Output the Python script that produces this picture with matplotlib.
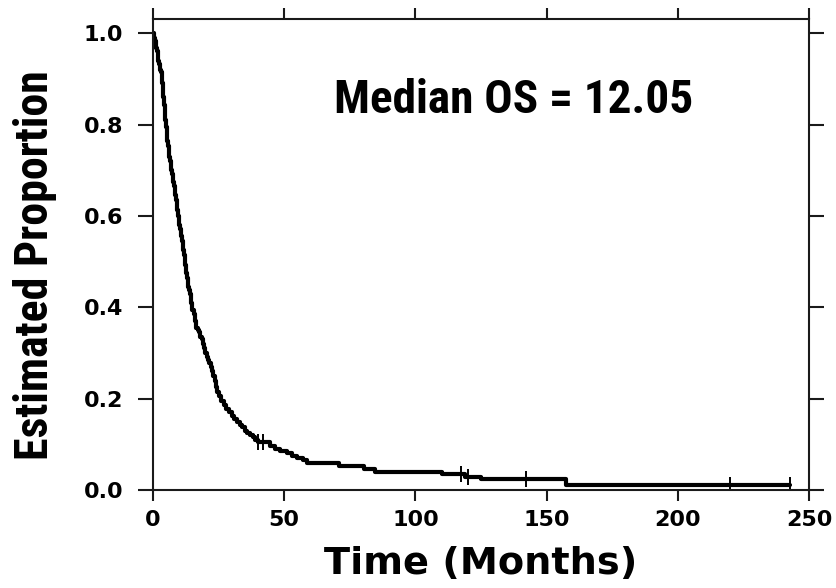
import numpy as np
import matplotlib
matplotlib.use("Agg")
import matplotlib.pyplot as plt
from matplotlib import font_manager

# Kaplan-Meier estimate: event times (months) and survival after each step
times = [0, 0.25, 0.5, 0.75, 1.0, 1.25, 1.5, 1.75, 2.0, 2.25, 2.5, 2.75,
         3.0, 3.25, 3.5, 3.75, 4.0, 4.25, 4.5, 4.75, 5.0, 5.25, 5.5, 5.75,
         6.0, 6.25, 6.5, 6.75, 7.0, 7.25, 7.5, 7.75, 8.0, 8.25, 8.5, 8.75,
         9.0, 9.25, 9.5, 9.75, 10.0, 10.25, 10.5, 10.75, 11.0, 11.25, 11.5,
         11.75, 12.05, 12.25, 12.5, 12.75, 13.0, 13.25, 13.5, 13.75, 14.0,
         14.5, 15.0, 15.5, 16.0, 16.5, 17.0, 17.5, 18.0, 18.5, 19.0, 19.5,
         20.0, 20.5, 21.0, 21.5, 22.0, 22.5, 23.0, 23.5, 24.0, 24.5, 25.0,
         26.0, 27.0, 28.0, 29.0, 30.0, 31.0, 32.0, 33.0, 34.0, 35.0, 36.0,
         37.0, 38.0, 39.0, 40.0, 44.5, 46.5, 48.5, 51.0, 53.0, 55.0, 57.0,
         58.5, 71.0, 80.5, 84.5, 110.0, 119.0, 125.0, 157.5, 242.7]
survival = [1.0, 0.995, 0.99, 0.982, 0.975, 0.968, 0.96, 0.95, 0.94, 0.932,
            0.925, 0.92, 0.915, 0.903, 0.89, 0.875, 0.86, 0.843, 0.825,
            0.81, 0.795, 0.78, 0.765, 0.752, 0.74, 0.73, 0.72, 0.71, 0.70,
            0.692, 0.685, 0.675, 0.665, 0.655, 0.645, 0.635, 0.625, 0.612,
            0.60, 0.59, 0.58, 0.572, 0.565, 0.555, 0.545, 0.535, 0.525,
            0.515, 0.50, 0.492, 0.485, 0.475, 0.465, 0.455, 0.445, 0.437,
            0.43, 0.41, 0.395, 0.385, 0.37, 0.355, 0.35, 0.345, 0.335, 0.33,
            0.32, 0.31, 0.30, 0.292, 0.285, 0.278, 0.27, 0.26, 0.25, 0.238,
            0.225, 0.215, 0.205, 0.195, 0.185, 0.178, 0.17, 0.162, 0.155,
            0.148, 0.143, 0.137, 0.13, 0.125, 0.12, 0.115, 0.11, 0.104,
            0.096, 0.09, 0.085, 0.08, 0.075, 0.07, 0.065, 0.059, 0.053,
            0.046, 0.040, 0.035, 0.029, 0.024, 0.012, 0.012]
# Censored observations (months)
censored = [40.2, 41.8, 117.2, 120.0, 142.0, 220.0, 242.7]

median_os = 12.05
x_ticks = [0, 50, 100, 150, 200, 250]
y_ticks = [0.0, 0.2, 0.4, 0.6, 0.8, 1.0]

# Prefer a condensed sans for the annotation and axis title when present
installed = {f.name for f in font_manager.fontManager.ttflist}
narrow = [n for n in ("Liberation Sans Narrow", "Roboto Condensed",
                      "Open Sans Condensed", "Noto Sans Condensed",
                      "DejaVu Sans Condensed") if n in installed]
narrow_family = narrow + ["Liberation Sans"]

fig = plt.figure(figsize=(8.37, 5.88), dpi=100)
ax = fig.add_axes([153 / 837, 98 / 588, 656 / 837, 471 / 588])

t = np.asarray(times)
s = np.asarray(survival)
ax.step(t, s, where="post", color="black", lw=3.0, solid_joinstyle="round",
        solid_capstyle="round")

c = np.asarray(censored)
idx = np.searchsorted(t, c, side="right") - 1
ax.plot(c, s[idx], linestyle="none", marker="|", markersize=12,
        markeredgewidth=1.4, color="black")

ax.set_xlim(0, 250)
ax.set_ylim(0, 1.031)
ax.set_xticks(x_ticks)
ax.set_yticks(y_ticks)
ax.set_xticklabels([str(v) for v in x_ticks])
ax.set_yticklabels([f"{v:.1f}" for v in y_ticks])

for sp in ax.spines.values():
    sp.set_linewidth(1.5)
    sp.set_color("#1a1a1a")

ax.tick_params(axis="both", which="both", direction="out", width=1.5,
               color="#1a1a1a", labelsize=16)
ax.tick_params(axis="y", length=10.8, pad=10.5, left=True, right=True)
ax.tick_params(axis="x", length=8.2, pad=6, top=True, bottom=True)
for lab in ax.get_xticklabels() + ax.get_yticklabels():
    lab.set_fontfamily("DejaVu Sans")
    lab.set_fontweight("bold")

ax.set_xlabel("Time (Months)", fontsize=27.5, fontweight="bold",
              fontfamily="DejaVu Sans")
ax.xaxis.set_label_coords(0.5, -0.118)

ylab_size = 33 if narrow else 29.5
ax.set_ylabel("Estimated Proportion", fontsize=ylab_size,
              fontweight="bold", fontfamily=narrow_family)
ax.yaxis.set_label_coords(-0.147, 0.478)

ann_size = 34 if narrow else 29
ax.text(137.4, 0.853, f"Median OS = {median_os:.2f}", ha="center",
        va="center", fontsize=ann_size, fontweight="bold",
        fontfamily=narrow_family)

fig.savefig("out.png", dpi=100)
